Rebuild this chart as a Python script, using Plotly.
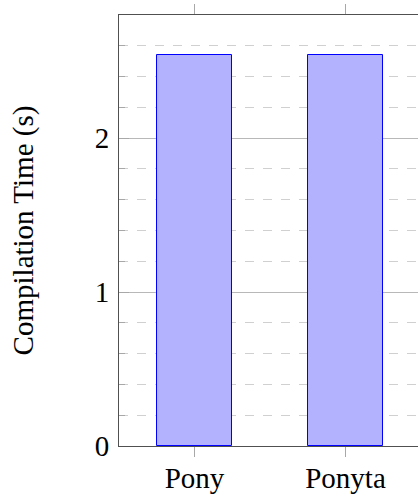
import plotly.graph_objects as go

categories = ["Pony", "Ponyta"]
compile_time = [2.54, 2.54]
y_tick_vals = [0, 1, 2]
y_tick_text = ["0", "1", "2"]

FONT = "Liberation Serif"
FS = 29

fig = go.Figure()
fig.add_trace(go.Bar(
    x=categories,
    y=compile_time,
    width=0.5,
    marker=dict(color="rgb(178,178,255)", line=dict(color="rgb(0,0,255)", width=1)),
))

fig.update_layout(
    width=418,
    height=498,
    margin=dict(l=119, r=0, t=15, b=52),
    plot_bgcolor="white",
    paper_bgcolor="white",
    showlegend=False,
    font=dict(family=FONT, size=FS, color="black"),
    bargap=0,
)

fig.update_xaxes(
    type="category",
    range=[-0.5, 1.48],
    automargin=False,
    showline=True,
    linecolor="#505050",
    linewidth=1,
    mirror="ticks",
    ticks="outside",
    ticklen=10,
    tickcolor="#a8a8a8",
    tickwidth=1,
    showgrid=False,
    ticklabelstandoff=-4,
    tickfont=dict(family=FONT, size=FS, color="black"),
)

fig.update_yaxes(
    range=[0, 2.8],
    automargin=False,
    tickvals=y_tick_vals,
    ticktext=y_tick_text,
    showline=True,
    linecolor="#505050",
    linewidth=1,
    mirror=False,
    ticks="inside",
    ticklen=10,
    tickcolor="#a8a8a8",
    showgrid=True,
    gridcolor="#b8b8b8",
    gridwidth=1,
    zeroline=False,
    ticklabelstandoff=3,
    tickfont=dict(family=FONT, size=FS, color="black"),
    title=dict(text="Compilation Time (s)", font=dict(family=FONT, size=FS, color="black"), standoff=52),
    minor=dict(
        dtick=0.2,
        tick0=0,
        showgrid=True,
        griddash="dash",
        gridcolor="#d0d0d0",
        gridwidth=1,
        ticks="inside",
        ticklen=6,
        tickcolor="#a8a8a8",
    ),
)

fig.write_html(
    "out.html",
    config={"displayModeBar": False},
    post_script="document.body.style.margin='0';",
)
